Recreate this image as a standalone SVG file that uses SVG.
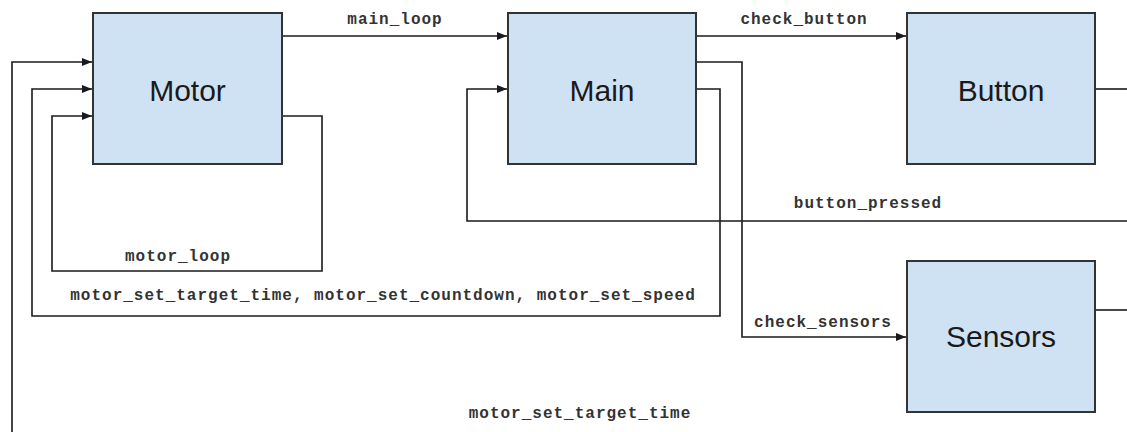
<svg xmlns="http://www.w3.org/2000/svg" width="1127" height="432" viewBox="0 0 1127 432">
  <style>
    .box { fill: #cfe2f3; stroke: #333333; stroke-width: 2; }
    .name { font-family: "Liberation Sans", Arial, sans-serif; font-size: 30px; fill: #1a1a1a; text-anchor: middle; }
    .wire { fill: none; stroke: #1a1a1a; stroke-width: 1.6; }
    .lbl { font-family: "Liberation Mono", "DejaVu Sans Mono", monospace; font-size: 16px; font-weight: bold; letter-spacing: 1px; fill: #333333; text-anchor: middle; }
  </style>
  <defs>
    <marker id="arrow" viewBox="0 0 10 8" refX="10" refY="4" markerWidth="10" markerHeight="8" markerUnits="userSpaceOnUse" orient="auto">
      <path d="M0,0 L10,4 L0,8 Z" fill="#1a1a1a"/>
    </marker>
  </defs>

  <rect width="1127" height="432" fill="#ffffff"/>

  <g id="connectors">
    <path class="wire" d="M282,36 H507" marker-end="url(#arrow)"/>
    <path class="wire" d="M696,36 H906" marker-end="url(#arrow)"/>
    <path class="wire" d="M282,116 H322 V271 H52 V116 H92" marker-end="url(#arrow)"/>
    <path class="wire" d="M696,89 H720 V316 H32 V89 H92" marker-end="url(#arrow)"/>
    <path class="wire" d="M1127,221 H467 V89 H507" marker-end="url(#arrow)"/>
    <path class="wire" d="M696,62 H742 V337 H906" marker-end="url(#arrow)"/>
    <path class="wire" d="M1095,89 H1127"/>
    <path class="wire" d="M1095,310 H1127"/>
    <path class="wire" d="M12,432 V62 H92" marker-end="url(#arrow)"/>

    <text class="lbl" x="395" y="24">main_loop</text>
    <text class="lbl" x="804" y="24">check_button</text>
    <text class="lbl" x="178" y="261">motor_loop</text>
    <text class="lbl" x="383" y="300">motor_set_target_time, motor_set_countdown, motor_set_speed</text>
    <text class="lbl" x="868" y="208">button_pressed</text>
    <text class="lbl" x="823" y="327">check_sensors</text>
    <text class="lbl" x="580" y="418">motor_set_target_time</text>
  </g>

  <g id="motor">
    <rect class="box" x="93" y="13" width="189" height="151"/>
    <text class="name" x="187.5" y="101">Motor</text>
  </g>
  <g id="main">
    <rect class="box" x="508" y="13" width="188" height="151"/>
    <text class="name" x="602" y="101">Main</text>
  </g>
  <g id="button">
    <rect class="box" x="907" y="13" width="188" height="151"/>
    <text class="name" x="1001" y="101">Button</text>
  </g>
  <g id="sensors">
    <rect class="box" x="907" y="261" width="188" height="151"/>
    <text class="name" x="1001" y="347">Sensors</text>
  </g>
</svg>
